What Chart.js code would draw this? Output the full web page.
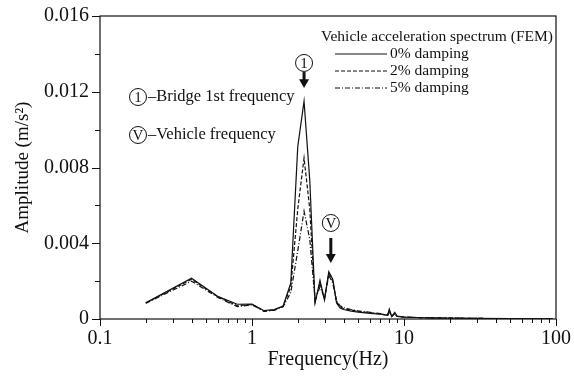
<!DOCTYPE html>
<html>
<head>
<meta charset="utf-8">
<script src="https://cdn.jsdelivr.net/npm/chart.js@4.4.1/dist/chart.umd.min.js"></script>
<style>
  html, body { margin: 0; padding: 0; background: #fff; }
  #wrap { width: 574px; height: 376px; }
</style>
</head>
<body>
<div id="wrap"><canvas id="spectrum" width="574" height="376"></canvas></div>
<script>
// frequency axis (Hz), 0.2 Hz steps around the peaks, sparser in the tail
const freqs = [0.2, 0.4, 0.6, 0.8, 1.0, 1.2, 1.4, 1.6, 1.8, 2.0,
  2.2, 2.4, 2.6, 2.8, 3.0, 3.2, 3.4, 3.6, 3.8, 4.0,
  4.5, 5, 6, 7, 7.8, 8.0, 8.3, 8.7, 9.0, 10,
  12, 15, 20, 30, 50, 95];

const damping0 = [0.00085, 0.00215, 0.00118, 0.00078, 0.00079, 0.00044, 0.0005, 0.00068, 0.0019, 0.0091,
  0.0115, 0.0073, 0.00085, 0.00205, 0.001, 0.0025, 0.0021, 0.00085, 0.00058, 0.0005,
  0.00042, 0.00036, 0.0003, 0.00025, 0.0002, 0.00052, 0.00013, 0.00035, 0.00015, 0.0001,
  0.00008, 0.00006, 0.00005, 0.00003, 0.00002, 0.00001];

const damping2 = [0.00084, 0.0021, 0.00116, 0.0007, 0.00077, 0.00042, 0.00048, 0.00066, 0.0017, 0.0058,
  0.0085, 0.0058, 0.0009, 0.0019, 0.00105, 0.0024, 0.002, 0.0009, 0.00065, 0.00055,
  0.00047, 0.0004, 0.00033, 0.00027, 0.0002, 0.00045, 0.00013, 0.0003, 0.00014, 0.0001,
  0.00008, 0.00006, 0.00005, 0.00003, 0.00002, 0.00001];

const damping5 = [0.00083, 0.002, 0.00113, 0.00065, 0.00075, 0.0004, 0.00046, 0.00064, 0.0014, 0.0036,
  0.0057, 0.0042, 0.001, 0.0017, 0.0011, 0.0023, 0.0019, 0.00095, 0.0007, 0.0006,
  0.0005, 0.00043, 0.00035, 0.00028, 0.0002, 0.0004, 0.00013, 0.00028, 0.00014, 0.0001,
  0.00008, 0.00006, 0.00005, 0.00003, 0.00002, 0.00001];

const seriesLabels = ['0% damping', '2% damping', '5% damping'];
const xMajorTicks = [0.1, 1, 10, 100];
const xTickLabels = ['0.1', '1', '10', '100'];
const yTicks = [0, 0.004, 0.008, 0.012, 0.016];
const yTickLabels = ['0', '0.004', '0.008', '0.012', '0.016'];

const FONT = '"Liberation Serif", "Times New Roman", serif';
const INK = '#111';

function points(values) {
  return freqs.map((f, i) => ({ x: f, y: values[i] }));
}

// tick marks (major longer than minor) plus the closed frame
const frameAndTicks = {
  id: 'frameAndTicks',
  afterDraw(chart) {
    const { ctx, chartArea: a, scales: { x, y } } = chart;
    ctx.save();
    ctx.strokeStyle = INK;
    ctx.lineWidth = 1.2;
    ctx.strokeRect(a.left, a.top, a.right - a.left, a.bottom - a.top);

    ctx.lineWidth = 1;
    ctx.beginPath();
    for (let i = 0; i < xMajorTicks.length; i++) {
      const d = xMajorTicks[i];
      const px = Math.round(x.getPixelForValue(d)) + 0.5;
      ctx.moveTo(px, a.bottom); ctx.lineTo(px, a.bottom + 7);
      if (i < xMajorTicks.length - 1) {
        for (let m = 2; m <= 9; m++) {
          const mx = Math.round(x.getPixelForValue(m * d)) + 0.5;
          ctx.moveTo(mx, a.bottom); ctx.lineTo(mx, a.bottom + 4);
        }
      }
    }
    for (let i = 0; i < yTicks.length; i++) {
      const py = Math.round(y.getPixelForValue(yTicks[i])) + 0.5;
      ctx.moveTo(a.left, py); ctx.lineTo(a.left - 8, py);
      if (i < yTicks.length - 1) {
        const my = Math.round(y.getPixelForValue((yTicks[i] + yTicks[i + 1]) / 2)) + 0.5;
        ctx.moveTo(a.left, my); ctx.lineTo(a.left - 5, my);
      }
    }
    ctx.stroke();
    ctx.restore();
  }
};

function circled(ctx, cx, cy, text) {
  ctx.beginPath();
  ctx.arc(cx, cy, 8.5, 0, Math.PI * 2);
  ctx.lineWidth = 1;
  ctx.stroke();
  ctx.fillText(text, cx, cy + 1);
}

function arrowDown(ctx, x, top, tip) {
  const head = Math.min(9, (tip - top) * 0.55);
  ctx.lineWidth = 3;
  ctx.beginPath();
  ctx.moveTo(x, top); ctx.lineTo(x, tip - head + 1);
  ctx.stroke();
  ctx.beginPath();
  ctx.moveTo(x - 5, tip - head); ctx.lineTo(x + 5, tip - head); ctx.lineTo(x, tip);
  ctx.closePath();
  ctx.fill();
}

// peak markers, key of markers and the legend block
const notes = {
  id: 'notes',
  afterDatasetsDraw(chart) {
    const { ctx, chartArea: a, scales: { x, y } } = chart;
    ctx.save();
    ctx.strokeStyle = INK;
    ctx.fillStyle = INK;
    ctx.font = '15px ' + FONT;
    ctx.textBaseline = 'middle';

    // bridge 1st frequency marker over the main peak
    const bx = x.getPixelForValue(2.2);
    ctx.textAlign = 'center';
    circled(ctx, bx, y.getPixelForValue(0.01352), '1');
    arrowDown(ctx, bx, y.getPixelForValue(0.01304), y.getPixelForValue(0.0122));

    // vehicle frequency marker
    const vx = x.getPixelForValue(3.3);
    circled(ctx, vx, y.getPixelForValue(0.00507), 'V');
    arrowDown(ctx, vx, y.getPixelForValue(0.00428), y.getPixelForValue(0.00296));

    // key for the markers
    const kx = a.left + 38;
    circled(ctx, kx, a.top + 81, '1');
    circled(ctx, kx, a.top + 119, 'V');
    ctx.textAlign = 'left';
    ctx.font = '16.5px ' + FONT;
    ctx.fillText('\u2013Bridge 1st frequency', kx + 10, a.top + 81);
    ctx.fillText('\u2013Vehicle frequency', kx + 10, a.top + 119);

    // legend
    const lx = a.left + 221;
    ctx.font = '15.5px ' + FONT;
    ctx.fillText('Vehicle acceleration spectrum (FEM)', lx, a.top + 21);
    chart.data.datasets.forEach((ds, i) => {
      const ly = a.top + 38 + i * 17;
      ctx.setLineDash(ds.borderDash || []);
      ctx.lineWidth = 1.1;
      ctx.beginPath();
      ctx.moveTo(lx + 14, ly); ctx.lineTo(lx + 66, ly);
      ctx.stroke();
      ctx.setLineDash([]);
      ctx.fillText(ds.label, lx + 69, ly);
    });
    ctx.restore();
  }
};

const lineStyle = { borderColor: INK, borderWidth: 1.2, pointRadius: 0, tension: 0, fill: false };

new Chart(document.getElementById('spectrum'), {
  type: 'line',
  data: {
    datasets: [
      { ...lineStyle, label: seriesLabels[0], data: points(damping0), borderDash: [] },
      { ...lineStyle, label: seriesLabels[1], data: points(damping2), borderDash: [4, 2] },
      { ...lineStyle, label: seriesLabels[2], data: points(damping5), borderDash: [5, 2, 1, 2] }
    ]
  },
  options: {
    responsive: false,
    animation: false,
    layout: { padding: { top: 16, right: 18, left: 0, bottom: 0 } },
    plugins: { legend: { display: false }, tooltip: { enabled: false } },
    scales: {
      x: {
        type: 'logarithmic',
        min: 0.1,
        max: 100,
        grid: { display: false, drawTicks: false },
        border: { display: false },
        afterBuildTicks: s => { s.ticks = xMajorTicks.map(v => ({ value: v, major: true })); },
        afterFit: s => { s.height = 57; s.paddingLeft = 0; s.paddingRight = 0; },
        ticks: {
          autoSkip: false,
          maxRotation: 0,
          padding: 8,
          color: INK,
          font: { family: FONT, size: 20 },
          callback: (v) => xTickLabels[xMajorTicks.indexOf(v)] ?? ''
        },
        title: {
          display: true,
          text: 'Frequency(Hz)',
          color: INK,
          font: { family: FONT, size: 20 },
          padding: { top: 0, bottom: 4 }
        }
      },
      y: {
        min: 0,
        max: 0.016,
        grid: { display: false, drawTicks: false },
        border: { display: false },
        afterBuildTicks: s => { s.ticks = yTicks.map(v => ({ value: v })); },
        afterFit: s => { s.width = 100; s.paddingTop = 0; s.paddingBottom = 0; },
        ticks: {
          padding: 11,
          color: INK,
          font: { family: FONT, size: 20 },
          callback: (v) => yTickLabels[yTicks.indexOf(v)] ?? ''
        },
        title: {
          display: true,
          text: 'Amplitude (m/s\u00B2)',
          color: INK,
          font: { family: FONT, size: 19 },
          padding: { top: 12, bottom: 0 }
        }
      }
    }
  },
  plugins: [frameAndTicks, notes]
});
</script>
</body>
</html>
